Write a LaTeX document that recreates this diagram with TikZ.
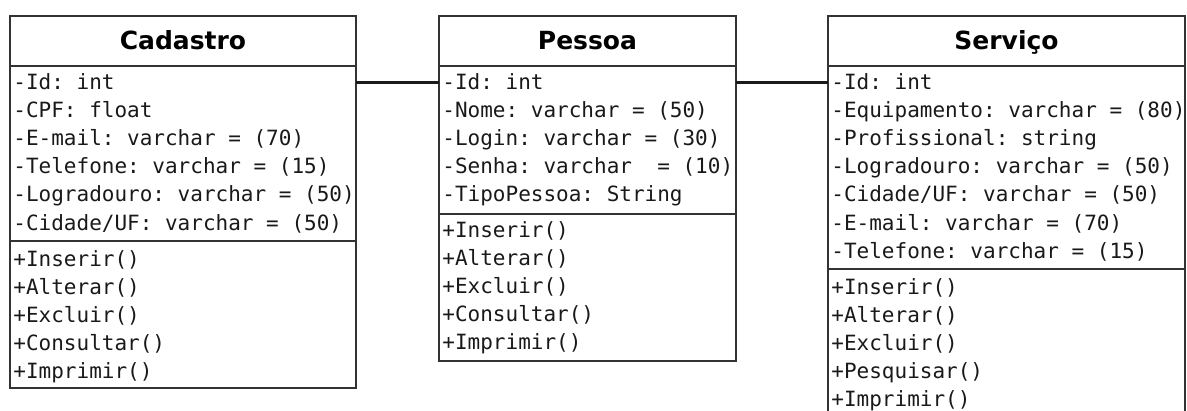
\documentclass[tikz,border=0pt]{standalone}
\usepackage{fontspec}
\setmainfont{DejaVu Sans}
\setmonofont{DejaVu Sans Mono}
\usetikzlibrary{fit}
\definecolor{boxline}{HTML}{333333}
\definecolor{linkline}{HTML}{1A1A1A}
\tikzset{
  part/.style={draw=boxline, line width=0.6pt, inner sep=0pt, outer sep=0pt},
  classtitle/.style={font=\bfseries\fontsize{12.5}{15}\selectfont, anchor=base, inner sep=0pt},
  member/.style={font=\ttfamily\fontsize{10.5}{14}\selectfont, anchor=base west, inner sep=0pt, text=black!90},
  assoc/.style={draw=linkline, line width=1.5pt}
}
\newcommand{\umlclass}[6]{%
  
  \node[part, fit={(#2,16) (#3,66)}] (#1head) {};
  \node[part, fit={(#2,66) (#3,#4)}] (#1attr) {};
  \node[part, fit={(#2,#4) (#3,#5)}] (#1ops) {};
  \node[classtitle] (#1title) at ({(#2+#3)/2},50) {#6};
}
\newcommand{\members}[4]{%
  \foreach \txt [count=\i] in {#4}
    \node[member] (#1\i) at (#2,{#3+28*(\i-1)}) {\txt};
}

\begin{document}
\begin{tikzpicture}[x=0.5pt,y=-0.5pt]
    \clip (0,0) rectangle (1187,411);
    \umlclass{cad}{10}{356}{241}{388}{Cadastro}
    \members{cadA}{13}{90}{{-Id: int},{-CPF: float},{-E-mail: varchar = (70)},{-Telefone: varchar = (15)},{-Logradouro: varchar = (50)},{-Cidade/UF: varchar = (50)}}
    \members{cadM}{13}{266}{{+Inserir()},{+Alterar()},{+Excluir()},{+Consultar()},{+Imprimir()}}
    \umlclass{pes}{439}{736}{214}{361}{Pessoa}
    \members{pesA}{442}{90}{{-Id: int},{-Nome: varchar = (50)},{-Login: varchar = (30)},{-Senha: varchar~ = (10)},{-TipoPessoa: String}}
    \members{pesM}{442}{237}{{+Inserir()},{+Alterar()},{+Excluir()},{+Consultar()},{+Imprimir()}}
    \umlclass{ser}{828}{1185}{269}{430}{Serviço}
    \members{serA}{831}{90}{{-Id: int},{-Equipamento: varchar = (80)},{-Profissional: string},{-Logradouro: varchar = (50)},{-Cidade/UF: varchar = (50)},{-E-mail: varchar = (70)},{-Telefone: varchar = (15)}}
    \members{serM}{831}{294}{{+Inserir()},{+Alterar()},{+Excluir()},{+Pesquisar()},{+Imprimir()}}
    \draw[assoc] (cadA1 -| cadattr.east) -- (cadA1 -| pesattr.west);
    \draw[assoc] (pesA1 -| pesattr.east) -- (pesA1 -| serattr.west);
  \end{tikzpicture}
\end{document}
